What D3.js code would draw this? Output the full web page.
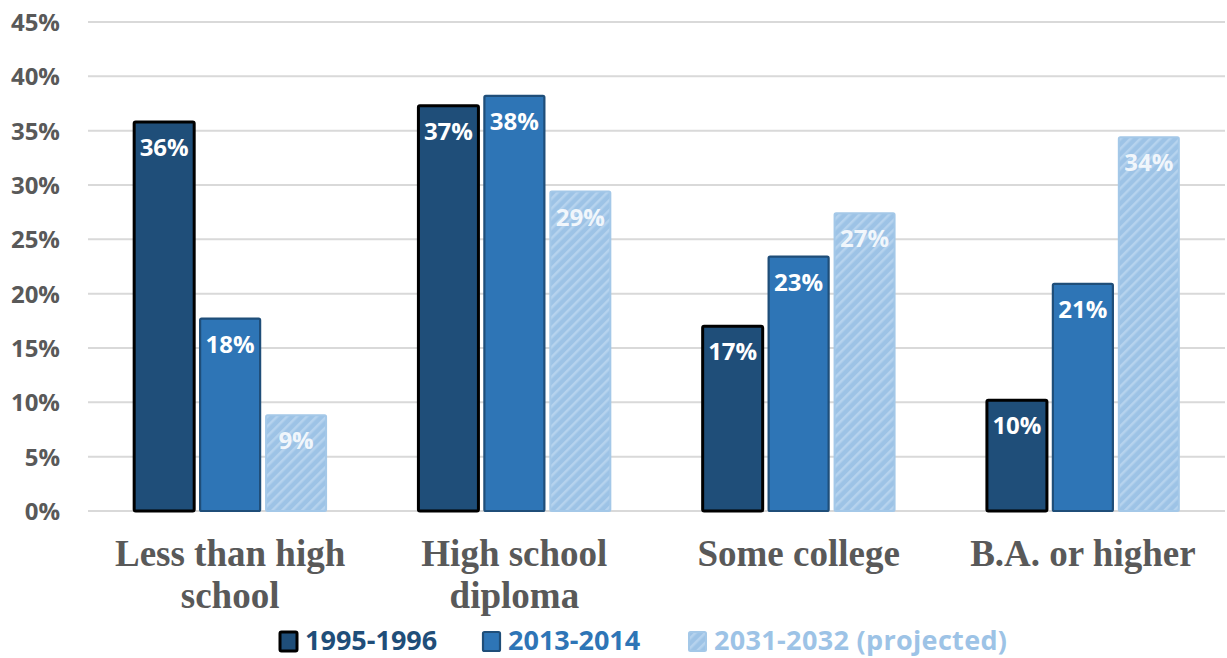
<!DOCTYPE html>
<html>
<head>
<meta charset="utf-8">
<script src="https://cdn.jsdelivr.net/npm/d3@7"></script>
<style>
  html, body { margin: 0; padding: 0; background: #fff; }
  svg { display: block; }
</style>
</head>
<body>
<svg id="chart" width="1227" height="658"></svg>
<script>
// Educational attainment shares by period
const categories = [["Less than high", "school"], ["High school", "diploma"], ["Some college"], ["B.A. or higher"]];
const seriesNames = ["1995-1996", "2013-2014", "2031-2032 (projected)"];
const values1995 = [35.8, 37.3, 17.0, 10.2];
const values2013 = [17.7, 38.2, 23.4, 20.9];
const values2031 = [8.8, 29.4, 27.4, 34.4];
const yTicks = [0, 5, 10, 15, 20, 25, 30, 35, 40, 45];

const seriesValues = [values1995, values2013, values2031];
const fills = ["#1F4E79", "#2E75B6", "url(#hatch)"];
const strokes = ["#000000", "#1F4E79", "#A4C8E8"];
const strokeWidths = [3, 2.2, 2];
const textColors = ["#1F4E79", "#2E75B6", "#9DC3E6"];

const svg = d3.select("#chart");

// diagonal hatch used for the projected series
const defs = svg.append("defs");
const pat = defs.append("pattern")
  .attr("id", "hatch")
  .attr("patternUnits", "userSpaceOnUse")
  .attr("width", 7).attr("height", 7)
  .attr("patternTransform", "rotate(45)");
pat.append("rect").attr("width", 7).attr("height", 7).attr("fill", "#9DC3E6");
pat.append("rect").attr("x", 0).attr("width", 2.5).attr("height", 7).attr("fill", "#B6D3EE");

const plot = { left: 88, right: 1225, top: 22, bottom: 511 };

const x0 = d3.scaleBand()
  .domain(d3.range(categories.length))
  .range([plot.left, plot.right])
  .padding(0);

const x1 = d3.scaleBand()
  .domain(d3.range(seriesNames.length))
  .range([0, x0.bandwidth()])
  .paddingInner(0.09)
  .paddingOuter(0.70);

const y = d3.scaleLinear().domain([0, 45]).range([plot.bottom, plot.top]);

// gridlines
svg.append("g")
  .selectAll("line")
  .data(yTicks)
  .join("line")
  .attr("x1", plot.left).attr("x2", plot.right)
  .attr("y1", d => y(d)).attr("y2", d => y(d))
  .attr("stroke", "#D9D9D9")
  .attr("stroke-width", 2);

// y axis labels
const yAxis = d3.axisLeft(y).tickValues(yTicks).tickFormat(d => d + "%").tickSize(0).tickPadding(0);
const yg = svg.append("g").attr("transform", "translate(60,0)").call(yAxis);
yg.select(".domain").remove();
yg.selectAll("text")
  .attr("fill", "#595959")
  .attr("font-family", "'Open Sans', sans-serif")
  .attr("font-weight", "bold")
  .attr("font-size", 24)
  .attr("dy", "0.35em");

// bars
const groups = svg.append("g")
  .selectAll("g")
  .data(categories.map((c, i) => i))
  .join("g")
  .attr("transform", i => `translate(${x0(i)},0)`);

const fmt = v => d3.format(".0f")(v) + "%";

groups.each(function(ci) {
  const g = d3.select(this);
  const cells = seriesValues.map((vals, si) => ({ si, v: vals[ci] }));
  g.selectAll("rect")
    .data(cells)
    .join("rect")
    .attr("x", d => x1(d.si))
    .attr("width", x1.bandwidth())
    .attr("y", d => y(d.v))
    .attr("height", d => y(0) - y(d.v))
    .attr("rx", 1.5)
    .attr("fill", d => fills[d.si])
    .attr("stroke", d => strokes[d.si])
    .attr("stroke-width", d => strokeWidths[d.si]);
  g.selectAll("text")
    .data(cells)
    .join("text")
    .attr("x", d => x1(d.si) + x1.bandwidth() / 2)
    .attr("y", d => y(d.v) + 34)
    .attr("text-anchor", "middle")
    .attr("font-family", "'Open Sans', sans-serif")
    .attr("font-weight", "bold")
    .attr("font-size", 24)
    .attr("fill", "#fff")
    .attr("fill-opacity", d => d.si === 2 ? 0.85 : 1)
    .text(d => fmt(d.v));
});

// category labels
const catG = svg.append("g");
categories.forEach((lines, i) => {
  const t = catG.append("text")
    .attr("x", x0(i) + x0.bandwidth() / 2)
    .attr("y", 566)
    .attr("text-anchor", "middle")
    .attr("font-family", "'Liberation Serif', 'Times New Roman', serif")
    .attr("font-weight", "bold")
    .attr("font-size", 37)
    .attr("fill", "#595959");
  lines.forEach((ln, k) => {
    t.append("tspan").attr("x", x0(i) + x0.bandwidth() / 2).attr("dy", k === 0 ? 0 : 42).text(ln);
  });
});

// legend
const legendX = [280, 483, 689];
const leg = svg.append("g");
seriesNames.forEach((name, si) => {
  leg.append("rect")
    .attr("x", legendX[si]).attr("y", 632)
    .attr("width", 17).attr("height", 19)
    .attr("rx", 1.5)
    .attr("fill", fills[si])
    .attr("stroke", strokes[si])
    .attr("stroke-width", strokeWidths[si]);
  leg.append("text")
    .attr("x", legendX[si] + 25).attr("y", 650)
    .attr("font-family", "'Open Sans', sans-serif")
    .attr("font-weight", "bold")
    .attr("font-size", 27)
    .attr("textLength", si === 2 ? 293 : null)
    .attr("fill", textColors[si])
    .text(name);
});
</script>
</body>
</html>
